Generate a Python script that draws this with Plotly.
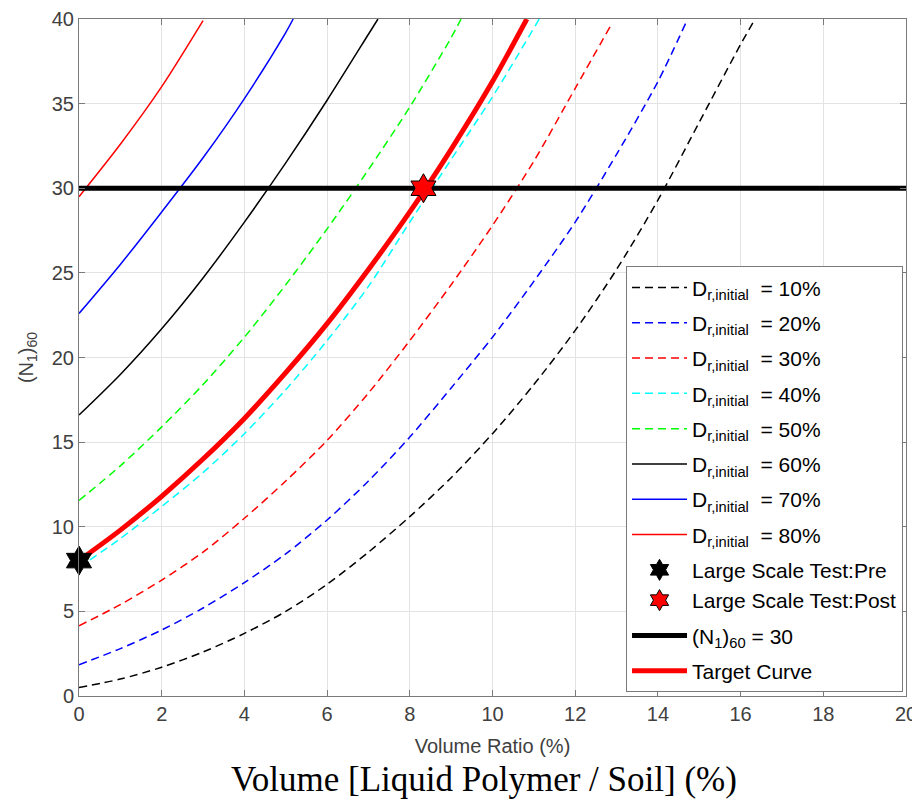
import plotly.graph_objects as go

# ---- data ----
dr10_x = [0, 1, 2, 3, 4, 5, 6, 7, 8, 9, 10, 11, 12, 13, 14, 15, 16, 16.35]
dr10_y = [0.5, 1.0, 1.7, 2.6, 3.7, 5.0, 6.6, 8.5, 10.6, 12.9, 15.5, 18.4, 21.6, 25.2, 29.3, 33.9, 38.5, 40.0]

dr20_x = [0, 1, 2, 3, 4, 5, 6, 7, 8, 9, 10, 11, 12, 13, 14, 14.7]
dr20_y = [1.85, 2.8, 3.9, 5.2, 6.7, 8.4, 10.4, 12.7, 15.3, 18.2, 21.2, 24.5, 28.0, 32.0, 36.3, 39.9]

dr30_x = [0, 1, 2, 3, 4, 5, 6, 7, 8, 9, 10, 11, 12, 12.88]
dr30_y = [4.15, 5.4, 6.85, 8.5, 10.5, 12.7, 15.1, 17.9, 21.0, 24.3, 27.8, 31.6, 35.9, 39.7]

dr40_x = [0, 1, 2, 3, 4, 5, 6, 7, 8, 9, 10, 11.13]
dr40_y = [7.6, 9.3, 11.2, 13.2, 15.5, 18.1, 21.0, 24.2, 28.0, 31.7, 35.4, 40.0]

dr50_x = [0, 1, 2, 3, 4, 5, 6, 7, 8, 9, 9.24]
dr50_y = [11.55, 13.6, 15.9, 18.4, 21.2, 24.3, 27.6, 31.1, 34.8, 38.9, 40.0]

dr60_x = [0, 1, 2, 3, 4, 5, 6, 7, 7.23]
dr60_y = [16.6, 19.0, 21.7, 24.7, 28.0, 31.5, 35.2, 39.1, 40.0]

dr70_x = [0, 1, 2, 3, 4, 5, 5.18]
dr70_y = [22.6, 25.5, 28.6, 31.8, 35.3, 39.2, 40.0]

dr80_x = [0, 1, 2, 3]
dr80_y = [29.5, 32.6, 36.0, 39.9]

target_x = [0, 1, 2, 3, 4, 5, 6, 7, 8, 9, 10, 10.83]
target_y = [8.0, 9.8, 11.8, 14.0, 16.4, 19.1, 22.0, 25.2, 28.6, 32.3, 36.3, 40.0]

pre_x = [0]
pre_y = [8]
post_x = [8.33]
post_y = [30]

n30_x = [0, 20]
n30_y = [30, 30]

x_ticks = [0, 2, 4, 6, 8, 10, 12, 14, 16, 18, 20]
y_ticks = [0, 5, 10, 15, 20, 25, 30, 35, 40]

FONT = "Liberation Sans, Arial, sans-serif"
DASH = "8px,5px"

def dr_name(p):
    return "D<sub>r,initial</sub>  = %d%%" % p

series = [
    (dr10_x, dr10_y, 10, "#000000", DASH),
    (dr20_x, dr20_y, 20, "#0000ff", DASH),
    (dr30_x, dr30_y, 30, "#ff0000", DASH),
    (dr40_x, dr40_y, 40, "#00ffff", DASH),
    (dr50_x, dr50_y, 50, "#00ff00", DASH),
    (dr60_x, dr60_y, 60, "#000000", "solid"),
    (dr70_x, dr70_y, 70, "#0000ff", "solid"),
    (dr80_x, dr80_y, 80, "#ff0000", "solid"),
]

fig = go.Figure()
rank = 1
for xs, ys, p, col, dash in series:
    fig.add_trace(go.Scatter(
        x=xs, y=ys, mode="lines", name=dr_name(p),
        line=dict(color=col, width=1.5, dash=dash, shape="spline", smoothing=0.8),
        legendrank=rank, legendgroup="g%d" % rank))
    rank += 1

fig.add_trace(go.Scatter(
    x=n30_x, y=n30_y, mode="lines", name="(N<sub>1</sub>)<sub>60</sub> = 30",
    line=dict(color="#000000", width=5), legendrank=11, legendgroup="g11"))
fig.add_trace(go.Scatter(
    x=target_x, y=target_y, mode="lines", name="Target Curve",
    line=dict(color="#ff0000", width=5, shape="spline", smoothing=0.8),
    legendrank=12, legendgroup="g12"))
fig.add_trace(go.Scatter(
    x=pre_x, y=pre_y, mode="markers", name="Large Scale Test:Pre",
    marker=dict(symbol="hexagram", size=22, color="#000000",
                line=dict(color="#000000", width=1)),
    cliponaxis=False, legendrank=9, legendgroup="g9"))
fig.add_trace(go.Scatter(
    x=post_x, y=post_y, mode="markers", name="Large Scale Test:Post",
    marker=dict(symbol="hexagram", size=22, color="#ff0000",
                line=dict(color="#000000", width=1)),
    cliponaxis=False, legendrank=10, legendgroup="g9"))

axis_common = dict(
    showgrid=True, gridcolor="#e3e3e3", gridwidth=1,
    showline=True, linecolor="#7a7a7a", linewidth=1, mirror="ticks",
    ticks="inside", ticklen=6, tickcolor="#7a7a7a",
    zeroline=False, automargin=False,
    tickfont=dict(family=FONT, size=20, color="#404040"),
)

# the page body has an 8px margin, so the figure is 8px smaller than the window
fig.update_layout(
    width=912, height=793,
    margin=dict(l=71, r=14, t=11, b=105),
    paper_bgcolor="white", plot_bgcolor="white",
    font=dict(family=FONT, color="#262626"),
    xaxis=dict(range=[0, 20], tickvals=x_ticks,
               title=dict(text="Volume Ratio (%)", standoff=14,
                          font=dict(family=FONT, size=20, color="#404040")),
               **axis_common),
    yaxis=dict(range=[0, 40], tickvals=y_ticks,
               title=dict(text="(N<sub>1</sub>)<sub>60</sub>", standoff=12,
                          font=dict(family=FONT, size=20, color="#404040")),
               **axis_common),
    legend=dict(x=0.9964, y=0.0055, xanchor="right", yanchor="bottom",
                bgcolor="white", bordercolor="#7a7a7a", borderwidth=1,
                font=dict(family=FONT, size=21, color="#000000"),
                itemwidth=55, tracegroupgap=5),
    showlegend=True,
    annotations=[dict(
        text="Volume [Liquid Polymer / Soil] (%)",
        xref="paper", yref="paper", x=0.49, y=-0.123,
        xanchor="center", yanchor="middle", showarrow=False,
        font=dict(family="Liberation Serif, Times New Roman, serif", size=35, color="#000000"))],
)

fig.write_html("out.html")
